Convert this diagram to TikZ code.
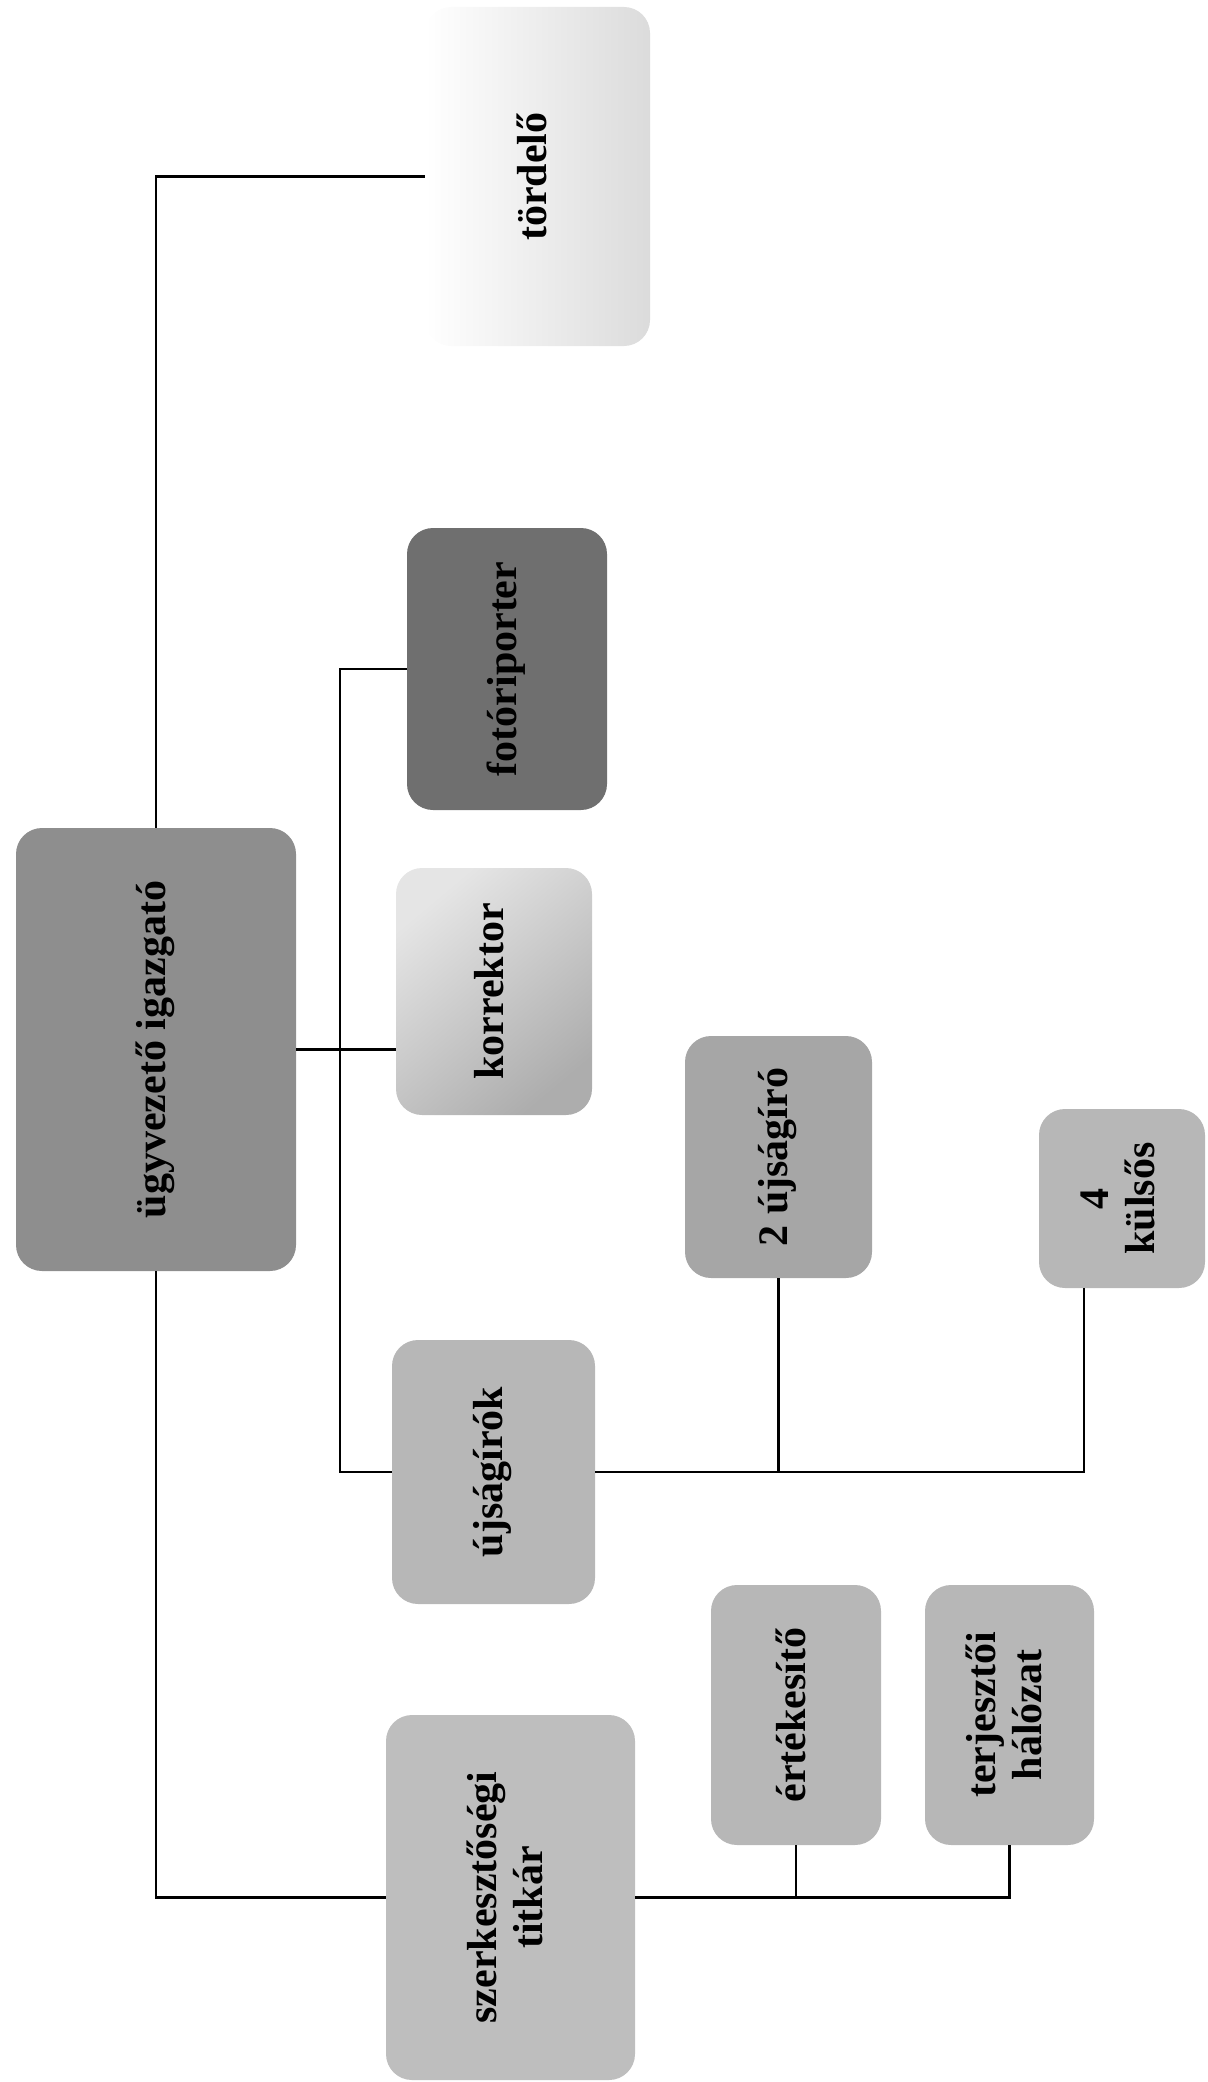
\documentclass[tikz,border=0pt]{standalone}
\usepackage{fontspec}
\setmainfont{Liberation Serif}

\newcommand{\vtext}[1]{\rotatebox{90}{\begin{tabular}{@{}c@{}}#1\end{tabular}}}

\tikzset{
    unit/.style n args={2}{minimum width=#1*0.5pt, minimum height=#2*0.5pt},
    orgbox/.style={rounded corners=13pt, inner sep=0pt, font=\fontsize{21}{23}\selectfont\bfseries},
    link/.style={draw=black, line width=1.1pt},
}

\begin{document}
\begin{tikzpicture}[x=0.5pt, y=-0.5pt]
    % Page size in pixels of the scan
    \useasboundingbox (0,0) rectangle (1208,2082);

    \definecolor{ceoFill}{HTML}{8E8E8E}
    \definecolor{photoFill}{HTML}{6F6F6F}
    \definecolor{midFill}{HTML}{A6A6A6}
    \definecolor{paleFill}{HTML}{B7B7B7}
    \definecolor{lightFill}{HTML}{BEBEBE}

    % Boxes
    \node[orgbox, unit={280}{443}, fill=ceoFill] (ceo) at (156,1049.5) {\vtext{ügyvezető igazgató}};
    \node[orgbox, unit={225}{339}, left color=white, right color=black!14] (tord) at (537.5,176.5) {\vtext{tördelő}};
    \node[orgbox, unit={200}{282}, fill=photoFill] (foto) at (507,669) {\vtext{fotóriporter}};
    \node[orgbox, unit={196}{247}, top color=white!90!black, bottom color=black!32, shading angle=40] (korr) at (494,991.5) {\vtext{korrektor}};
    \node[orgbox, unit={187}{242}, fill=midFill] (ujs2) at (778.5,1157) {\vtext{2 újságíró}};
    \node[orgbox, unit={166}{179}, fill=paleFill] (kuls) at (1122,1198.5) {\vtext{4\\külsős}};
    \node[orgbox, unit={203}{264}, fill=paleFill] (ujsk) at (493.5,1472) {\vtext{újságírók}};
    \node[orgbox, unit={170}{260}, fill=paleFill] (ertk) at (796,1715) {\vtext{értékesítő}};
    \node[orgbox, unit={169}{260}, fill=paleFill] (terj) at (1009.5,1715) {\vtext{terjesztői\\hálózat}};
    \node[orgbox, unit={249}{365}, fill=lightFill] (szerk) at (510.5,1897.5) {\vtext{szerkesztőségi\\titkár}};

    % Trunk of the chart
    \draw[link] (ceo.north) |- (tord.west);
    \draw[link] (ceo.south) |- (szerk.west);

    % Branch of the editorial staff
    \coordinate (spine) at (340,1049.5);
    \draw[link] (ceo.east) -- (ceo.east -| korr.west);
    \draw[link] (foto.west) -| (spine) |- (ujsk.west);

    % Journalists
    \coordinate (kulsFoot) at ([xshift=-19pt]kuls.south);
    \draw[link] (ujsk.east) -| (kulsFoot);
    \draw[link] (ujs2.south) -- (ujs2.south |- ujsk.east);

    % Sales
    \draw[link] (szerk.east) -| (terj.south);
    \draw[link] (ertk.south) -- (ertk.south |- szerk.east);

\end{tikzpicture}
\end{document}
